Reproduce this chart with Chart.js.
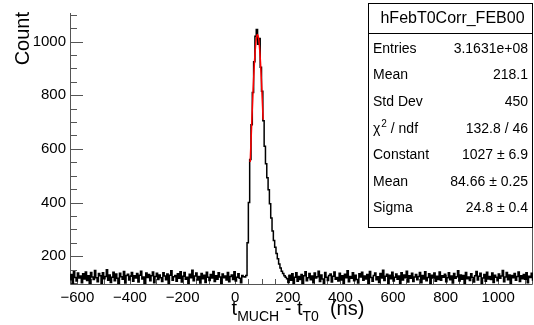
<!DOCTYPE html>
<html lang="en">
<head>
<meta charset="UTF-8">
<title>hFebT0Corr_FEB00</title>
<script src="https://cdn.jsdelivr.net/npm/chart.js@4.4.1/dist/chart.umd.min.js"></script>
<style>
  body { margin: 0; background: #fff; }
  #wrap { width: 534px; height: 325px; }
</style>
</head>
<body>
<div id="wrap"><canvas id="chart" width="534" height="325"></canvas></div>
<script>
// histogram: 5 ns bins starting at -630 ns
const binStart = -630;
const binWidth = 5;
const counts = [
  // -630 .. 35 ns
  112,131,98,142,120,107,137,118,126,101,134,115,141,109,127,96,139,122,113,146,
  119,104,135,127,99,138,116,124,149,110,130,102,121,140,108,133,117,97,136,123,
  114,143,100,128,132,111,125,139,106,127,118,135,103,129,144,115,122,95,137,120,
  131,108,127,141,101,124,136,113,130,119,105,138,126,112,133,99,129,145,110,123,
  128,106,134,117,142,103,125,139,114,121,97,132,119,147,108,126,137,111,124,100,
  135,116,129,102,140,121,109,131,118,143,105,127,114,138,122,98,133,119,126,111,
  139,104,124,130,113,142,107,121,134,117,101,128,123,
  // 35 .. 195 ns (peak)
  122,128,250,400,560,690,810,925,1020,1045,990,1012,905,815,705,610,
  545,492,448,395,342,294,258,233,210,190,171,156,144,135,127,121,
  // 195 .. 1135 ns
  116,102,129,110,134,97,121,138,106,124,113,131,99,127,142,108,119,135,112,126,
  101,137,118,123,144,105,130,115,96,139,121,109,128,133,103,125,141,114,120,107,
  136,111,127,99,132,119,145,104,124,117,138,108,129,113,100,134,122,140,110,126,
  115,131,98,143,120,106,128,137,112,123,102,135,118,147,109,125,132,97,129,116,
  140,107,121,133,114,126,99,138,111,130,119,144,103,127,117,136,105,122,131,112,
  124,139,101,128,115,142,108,120,134,96,129,118,137,106,125,113,141,110,127,121,
  132,104,119,138,112,126,100,135,117,123,145,107,130,114,128,98,139,116,122,109,
  134,120,103,127,143,111,125,136,99,118,131,106,140,115,124,113,137,102,129,121,
  108,133,117,126,146,104,122,139,112,130,97,128,119,135,110,124,141,105,127,116,
  131,114,138,101,125,120,136,111
];

// gaussian fit curve
const fitX = [57, 60, 64, 68, 72, 76, 80, 84, 88, 92, 96, 100, 104, 106];
const fitY = [551, 626, 726, 820, 901, 966, 1009, 1027, 1018, 983, 925, 848, 758, 709];

const xTicks = [-600, -400, -200, 0, 200, 400, 600, 800, 1000];
const yTicks = [200, 400, 600, 800, 1000];

const statsTitle = 'hFebT0Corr_FEB00';
const statsLabels = ['Entries', 'Mean', 'Std Dev', 'CHI2', 'Constant', 'Mean', 'Sigma'];
const statsValues = ['3.1631e+08', '218.1', '450', '132.8 / 46', '1027 \u00b1 6.9', '84.66 \u00b1 0.25', '24.8 \u00b1 0.4'];

const FONT = '"Liberation Sans", Arial, Helvetica, sans-serif';

const histPoints = counts.map((c, i) => ({ x: binStart + (i + 0.5) * binWidth, y: c }));
const fitPoints = fitX.map((x, i) => ({ x: x, y: fitY[i] }));

// ROOT style frame + inward ticks
const frameTicks = {
  id: 'frameTicks',
  beforeDatasetsDraw(chart) {
    const { ctx, chartArea: a, scales: { x, y } } = chart;
    ctx.save();
    ctx.strokeStyle = '#555';
    ctx.lineWidth = 1;
    ctx.beginPath();
    ctx.moveTo(a.left + 0.5, a.top);
    ctx.lineTo(a.left + 0.5, a.bottom + 0.5);
    ctx.lineTo(a.right - 0.5, a.bottom + 0.5);
    ctx.lineTo(a.right - 0.5, a.top);
    for (let v = 100; v <= 1100; v += 50) {
      const py = Math.round(y.getPixelForValue(v)) + 0.5;
      if (py < a.top || py > a.bottom) continue;
      const len = v % 200 === 0 ? 13 : 7;
      ctx.moveTo(a.left, py);
      ctx.lineTo(a.left + len, py);
    }
    for (let v = -600; v <= 1100; v += 50) {
      const px = Math.round(x.getPixelForValue(v)) + 0.5;
      if (px < a.left || px > a.right) continue;
      const len = v % 200 === 0 ? 9 : 5;
      ctx.moveTo(px, a.bottom);
      ctx.lineTo(px, a.bottom - len);
    }
    ctx.stroke();
    ctx.restore();
  }
};

// axis titles and stats box
const rootText = {
  id: 'rootText',
  afterDraw(chart) {
    const { ctx } = chart;
    ctx.save();
    ctx.fillStyle = '#000';

    // y title
    ctx.save();
    ctx.translate(29, 12);
    ctx.rotate(-Math.PI / 2);
    ctx.font = '20px ' + FONT;
    ctx.textAlign = 'right';
    ctx.textBaseline = 'alphabetic';
    ctx.fillText('Count', 0, 0);
    ctx.restore();

    // x title: t_MUCH - t_T0  (ns)
    const parts = [
      ['t', 20, 0], ['MUCH', 14, 6], [' - ', 20, 0], ['t', 20, 0], ['T0', 14, 6], ['  (ns)', 20, 0]
    ];
    let total = 0;
    parts.forEach(p => { ctx.font = p[1] + 'px ' + FONT; total += ctx.measureText(p[0]).width; });
    let cx = 298 - total / 2;
    ctx.textAlign = 'left';
    ctx.textBaseline = 'alphabetic';
    parts.forEach(p => {
      ctx.font = p[1] + 'px ' + FONT;
      ctx.fillText(p[0], cx, 315 + p[2]);
      cx += ctx.measureText(p[0]).width;
    });

    // stats box
    const bx = 368, by = 3, bw = 165, bh = 225;
    ctx.fillStyle = '#fff';
    ctx.fillRect(bx, by, bw, bh);
    ctx.strokeStyle = '#000';
    ctx.lineWidth = 1;
    ctx.strokeRect(bx + 0.5, by + 0.5, bw - 1, bh - 1);
    ctx.beginPath();
    ctx.moveTo(bx, 33.5);
    ctx.lineTo(bx + bw, 33.5);
    ctx.stroke();
    ctx.fillStyle = '#000';
    ctx.font = '16px ' + FONT;
    ctx.textAlign = 'center';
    ctx.textBaseline = 'middle';
    ctx.fillText(statsTitle, bx + bw / 2 + 2, 19);
    ctx.font = '14px ' + FONT;
    statsLabels.forEach((lab, i) => {
      const ry = 49 + i * 26.6;
      ctx.textAlign = 'left';
      if (lab === 'CHI2') {
        ctx.font = '14px ' + FONT;
        ctx.fillText('\u03c7', bx + 5, ry);
        let w = ctx.measureText('\u03c7').width;
        ctx.font = '10px ' + FONT;
        ctx.fillText('2', bx + 5 + w + 1, ry - 5);
        w += ctx.measureText('2').width + 1;
        ctx.font = '14px ' + FONT;
        ctx.fillText(' / ndf', bx + 5 + w, ry);
      } else {
        ctx.fillText(lab, bx + 5, ry);
      }
      ctx.textAlign = 'right';
      ctx.fillText(statsValues[i], bx + bw - 5, ry);
    });
    ctx.restore();
  }
};

const minusFmt = v => (v < 0 ? '\u2212' + Math.abs(v) : String(v));

new Chart(document.getElementById('chart'), {
  type: 'line',
  data: {
    datasets: [
      {
        data: histPoints,
        stepped: 'middle',
        borderColor: '#000',
        borderWidth: 1.5,
        pointRadius: 0,
        fill: false,
        order: 2
      },
      {
        data: fitPoints,
        borderColor: '#ff0000',
        borderWidth: 1.5,
        pointRadius: 0,
        cubicInterpolationMode: 'monotone',
        fill: false,
        order: 1
      }
    ]
  },
  options: {
    responsive: false,
    animation: false,
    events: [],
    layout: { padding: { left: 0, top: 11, right: 1, bottom: 0 } },
    plugins: { legend: { display: false }, tooltip: { enabled: false } },
    scales: {
      x: {
        type: 'linear',
        min: -628,
        max: 1132,
        afterBuildTicks: s => { s.ticks = xTicks.map(v => ({ value: v })); },
        afterFit: s => { s.height = 41; },
        grid: { display: false, drawTicks: false },
        border: { display: false },
        ticks: {
          maxRotation: 0,
          autoSkip: false,
          padding: 5,
          color: '#000',
          font: { family: FONT, size: 15 },
          callback: minusFmt
        }
      },
      y: {
        min: 96,
        max: 1107,
        afterBuildTicks: s => { s.ticks = yTicks.map(v => ({ value: v })); },
        afterFit: s => { s.width = 70; },
        grid: { display: false, drawTicks: false },
        border: { display: false },
        ticks: {
          autoSkip: false,
          padding: 4,
          color: '#000',
          font: { family: FONT, size: 15 },
          callback: minusFmt
        }
      }
    }
  },
  plugins: [frameTicks, rootText]
});
</script>
</body>
</html>
